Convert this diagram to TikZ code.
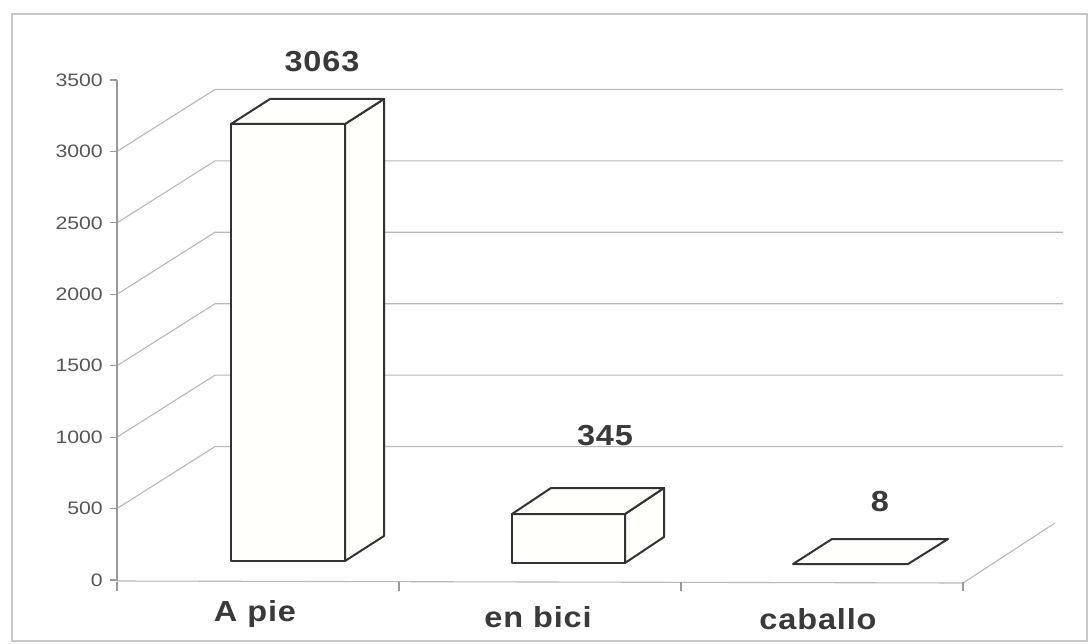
\documentclass[tikz,border=0pt]{standalone}
\usepackage{fontspec}
\newfontfamily\tickfont{Liberation Sans}[FakeStretch=1.18]
\newfontfamily\labfont{Liberation Sans}[FakeStretch=1.12,LetterSpace=3]
\definecolor{gridc}{HTML}{B8B8B8}
\definecolor{borderc}{HTML}{C8C8C8}
\definecolor{axisc}{HTML}{999999}
\definecolor{barc}{HTML}{333333}
\definecolor{barfill}{HTML}{FFFFFB}
\definecolor{txtc}{HTML}{3A3A3A}
\begin{document}
\begin{tikzpicture}[x=1pt,y=-1pt,
  grid/.style={draw=gridc,line width=1.1pt},
  axisline/.style={draw=axisc,line width=1.1pt},
  barline/.style={draw=barc,line width=2pt,line join=round,fill=barfill},
  ticklab/.style={anchor=east,inner sep=0pt,text=txtc!85,font=\tickfont\fontsize{18}{18}\selectfont},
  vallab/.style={inner sep=0pt,text=txtc,font=\labfont\bfseries\fontsize{29}{29}\selectfont},
  catlab/.style={inner sep=0pt,text=txtc,font=\labfont\bfseries\fontsize{29}{29}\selectfont}]
\useasboundingbox (0,0) rectangle (1091,644);
\fill[white] (0,0) rectangle (1091,644);
% outer border
\draw[draw=borderc,line width=1.5pt] (12,14) rectangle (1087,641);
% back wall gridlines and side diagonals
\foreach \v in {500,1000,...,3000}{
  \pgfmathsetmacro{\fy}{580-\v/7}
  \pgfmathsetmacro{\by}{518-\v/7}
  \draw[grid] (117,\fy) -- (215,\by) -- (1063,\by);
}
% floor
\draw[grid] (117,581) -- (963,583) -- (1055,523);
% vertical axis
\draw[axisline] (117,80) -- (117,581);
\foreach \v in {0,500,...,3500}{
  \pgfmathsetmacro{\fy}{580-\v/7}
  \draw[axisline] (110,\fy) -- (117,\fy);
  \node[ticklab] (t\v) at (103,\fy) {\v};
}
% category ticks
\foreach \x in {117,399,681,963}{
  \draw[axisline] (\x,582) -- (\x,591);
}
% bar 1: A pie
\draw[barline] (231,124) -- (345,124) -- (345,561) -- (231,561) -- cycle;
\draw[barline] (345,124) -- (384,99) -- (384,536) -- (345,561) -- cycle;
\draw[barline] (231,124) -- (270,99) -- (384,99) -- (345,124) -- cycle;
% bar 2: en bici
\draw[barline] (512,514) -- (625,514) -- (625,563) -- (512,563) -- cycle;
\draw[barline] (625,514) -- (664,488) -- (664,537) -- (625,563) -- cycle;
\draw[barline] (512,514) -- (551,488) -- (664,488) -- (625,514) -- cycle;
% bar 3: caballo
\draw[barline] (793,564) -- (908,564) -- (948,539) -- (832,539) -- cycle;
% value labels
\node[vallab] (v1) at (322,62) {3063};
\node[vallab] (v2) at (605,436) {345};
\node[vallab] (v3) at (880,502) {8};
% category labels
\node[catlab] (c1) at (255,614) {A pie};
\node[catlab] (c2) at (538,617) {en bici};
\node[catlab] (c3) at (818,619) {caballo};
\end{tikzpicture}
\end{document}
